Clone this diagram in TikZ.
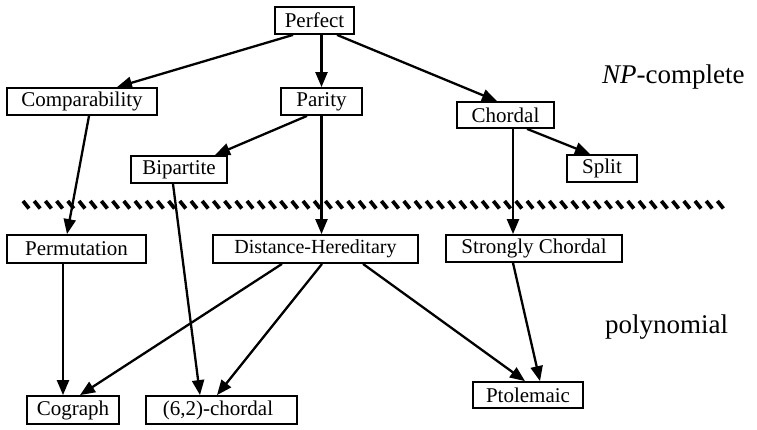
\documentclass[tikz,border=0pt]{standalone}
\usepackage{fontspec}
\setmainfont{Liberation Serif}
\usetikzlibrary{arrows.meta}
\begin{document}
\begin{tikzpicture}[x=1pt,y=-1pt,
  cls/.style={draw, line width=1.8pt, inner sep=0pt, minimum height=27pt,
    font=\fontsize{21}{24}\selectfont},
  arr/.style={line width=2.3pt, -{Triangle[length=15pt,width=12pt]}},
  region/.style={font=\fontsize{27}{30}\selectfont, inner sep=0pt}]
\useasboundingbox (0,0) rectangle (757,429);

% graph classes
\node[cls, minimum width=79pt] (perfect) at (314.5,20.5) {Perfect};
\node[cls, minimum width=150pt] (comp) at (82,101.5) {Comparability};
\node[cls, minimum width=81pt] (parity) at (321.5,101.5) {Parity};
\node[cls, minimum width=97pt, minimum height=26pt] (chordal) at (505.5,115) {Chordal};
\node[cls, minimum width=96pt] (bip) at (179,169.5) {Bipartite};
\node[cls, minimum width=70pt] (split) at (602,168.5) {Split};
\node[cls, minimum width=139pt, minimum height=28pt] (perm) at (76.5,249) {Permutation};
\node[cls, minimum width=205pt, minimum height=28pt, font=\fontsize{20}{24}\selectfont] (dh) at (315.5,249) {Distance-Hereditary};
\node[cls, minimum width=176pt] (sc) at (534,248.5) {Strongly Chordal};
\node[cls, minimum width=92pt, minimum height=28pt] (cog) at (73,410) {Cograph};
\node[cls, minimum width=151pt, minimum height=28pt] (c62) at (221.5,410) {\hspace*{-7pt}(6,2)-chordal};
\node[cls, minimum width=110pt, minimum height=26pt] (ptol) at (528,395) {Ptolemaic};

% complexity regions
\node[region, anchor=base west] (np) at (602,83) {\textit{NP}-complete};
\node[region, anchor=base west] (poly) at (605,333) {polynomial};

% hatched boundary between the two regions
\foreach \i in {0,...,62}
  \draw[line width=3.8pt] (23+11.2*\i,201) -- ++(6,7.5);

% inclusions
\draw[arr] ([xshift=-21.5pt]perfect.south) -- ([xshift=35pt]comp.north);
\draw[arr] (parity.north |- perfect.south) -- (parity.north);
\draw[arr] ([xshift=22.5pt]perfect.south) -- ([xshift=-8.5pt]chordal.north);
\draw[arr] ([xshift=-14.5pt]parity.south) -- ([xshift=36pt]bip.north);
\draw[arr] (parity.south) -- (parity.south |- dh.north);
\draw[arr] ([xshift=7pt]comp.south) -- ([xshift=-9.5pt]perm.north);
\draw[arr] ([xshift=7.5pt]chordal.south) -- ([xshift=7.5pt]chordal.south |- sc.north);
\draw[arr] ([xshift=21.5pt]chordal.south) -- ([xshift=-12pt]split.north);
\draw[arr] ([xshift=-6pt]bip.south) -- ([xshift=-21.5pt]c62.north);
\draw[arr] ([xshift=-13.5pt]perm.south) -- ([xshift=-13.5pt]perm.south |- cog.north);
\draw[arr] ([xshift=-33.5pt]dh.south) -- ([xshift=7pt]cog.north);
\draw[arr] ([xshift=6.5pt]dh.south) -- ([xshift=-4.5pt]c62.north);
\draw[arr] ([xshift=47.5pt]dh.south) -- ([xshift=-3pt]ptol.north);
\draw[arr] ([xshift=-21pt]sc.south) -- ([xshift=12pt]ptol.north);
\end{tikzpicture}
\end{document}
